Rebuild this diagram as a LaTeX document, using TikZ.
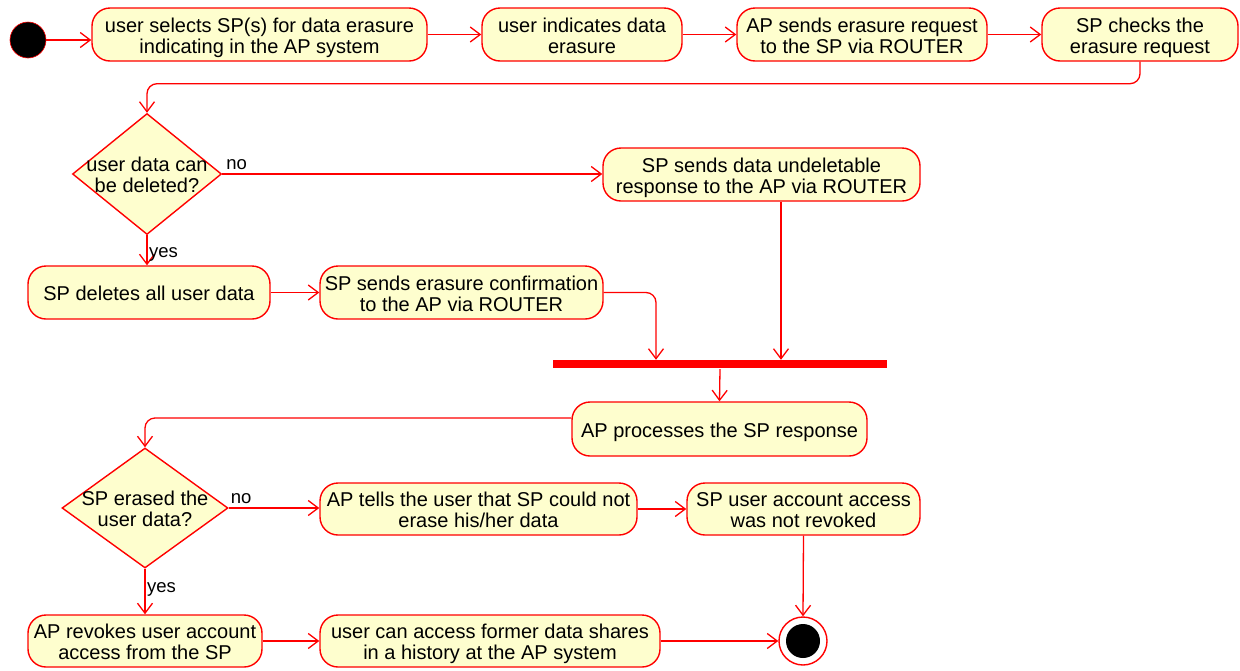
\documentclass[tikz,border=0pt]{standalone}
\usepackage{fontspec}
\setmainfont{Liberation Sans}
\usetikzlibrary{arrows.meta,shapes.geometric}
\definecolor{actfill}{HTML}{FEFECE}
\definecolor{actline}{HTML}{FF0000}
% fixed line box (height 21pt, depth 5pt) so every line sits at the same place
\newcommand{\ls}{\rule[-5pt]{0pt}{26pt}}
\newcommand{\actfont}{\fontsize{20}{21}\selectfont\lineskiplimit=-100pt\relax}
\tikzset{
  act/.style={draw=actline, line width=1.4pt, fill=actfill, rounded corners=18pt,
    align=center, inner sep=0pt, text=black, font=\actfont},
  choice/.style={draw=actline, line width=1.4pt, fill=actfill, shape=diamond,
    inner sep=0pt},
  choicetext/.style={align=center, inner sep=0pt, font=\actfont},
  guard/.style={inner sep=0pt, font=\fontsize{18.5}{20}\selectfont},
  flow/.style={draw=actline, line width=1.3pt, rounded corners=10pt,
    -{Straight Barb[length=10pt,width=15pt,line width=1.3pt]}},
}
\begin{document}
\begin{tikzpicture}[x=1pt,y=-1pt]
\useasboundingbox (0,0) rectangle (1240,670);
\fill[white] (0,0) rectangle (1240,670);

% start and end
\node[circle, fill=black, draw=actline, line width=0.6pt, minimum size=36pt, inner sep=0pt] (start) at (28,40) {};
\node[circle, draw=actline, line width=1.4pt, fill=white, minimum size=48pt, inner sep=0pt] (end) at (803,641) {};
\fill[black] (end.center) circle (17pt);

% first row
\node[act, minimum width=335pt, minimum height=53pt] (b1) at (259.5,34.5) {\ls user selects SP(s) for data erasure\\\ls indicating in the AP system};
\node[act, minimum width=200pt, minimum height=53pt] (b2) at (582,34.5) {\ls user indicates data\\\ls erasure};
\node[act, minimum width=250pt, minimum height=53pt] (b3) at (862,34.5) {\ls AP sends erasure request\\\ls to the SP via ROUTER};
\node[act, minimum width=196pt, minimum height=53pt] (b4) at (1140,34.5) {\ls SP checks the\\\ls erasure request};

% first decision
\node[choice, minimum width=149pt, minimum height=121pt] (d1) at (147,174) {};
\node[choicetext] at (d1.center) {\ls user data can\\\ls be deleted?};
\node[act, minimum width=317pt, minimum height=53pt] (b5) at (761.5,174.5) {\ls SP sends data undeletable\\\ls response to the AP via ROUTER};
\node[act, minimum width=242pt, minimum height=53pt] (b6) at (149,292.5) {\ls SP deletes all user data};
\node[act, minimum width=283pt, minimum height=53pt] (b7) at (461.5,292.5) {\ls SP sends erasure confirmation\\\ls to the AP via ROUTER};

% join bar
\node[fill=actline, minimum width=334pt, minimum height=8pt, inner sep=0pt] (bar) at (720,364) {};
\node[act, minimum width=295pt, minimum height=54pt] (b8) at (719.5,429) {\ls AP processes the SP response};

% second decision
\node[choice, minimum width=166pt, minimum height=120pt] (d2) at (145,508) {};
\node[choicetext] at (d2.center) {\ls SP erased the\\\ls user data?};
\node[act, minimum width=317pt, minimum height=52pt] (b9) at (478.5,509) {\ls AP tells the user that SP could not\\\ls erase his/her data};
\node[act, minimum width=233pt, minimum height=52pt] (b10) at (803.5,509) {\ls SP user account access\\\ls was not revoked};
\node[act, minimum width=234pt, minimum height=52pt] (b11) at (145,641) {\ls AP revokes user account\\\ls access from the SP};
\node[act, minimum width=340pt, minimum height=52pt] (b12) at (490,641) {\ls user can access former data shares\\\ls in a history at the AP system};

% flows
\draw[flow] (start.east) -- (start.east -| b1.west);
\draw[flow] (b1) -- (b2);
\draw[flow] (b2) -- (b3);
\draw[flow] (b3) -- (b4);
\draw[flow] (b4.south) -- ++(0,22) -| (d1.north);
\draw[flow] (d1.east) -- (d1.east -| b5.west);
\node[guard, anchor=south west] at ([xshift=4pt,yshift=4pt]d1.east) {no};
\draw[flow] (d1.south) -- (d1.south |- b6.north);
\node[guard, anchor=north west] at ([xshift=2pt,yshift=-12pt]d1.south) {yes};
\draw[flow] (b6) -- (b7);
\draw[flow] (b7.east) -| ([xshift=-64pt]bar.north);
\draw[flow] ([xshift=19.5pt]b5.south) -- ([xshift=61pt]bar.north);
\draw[flow] ([yshift=-1pt]bar.south) -- (b8.north);
\draw[flow] ([yshift=11pt]b8.west) -| (d2.north);
\draw[flow] (d2.east) -- (d2.east -| b9.west);
\node[guard, anchor=south west] at ([xshift=2pt,yshift=4pt]d2.east) {no};
\draw[flow] (b9) -- (b10);
\draw[flow] (b10.south) -- (end.north);
\draw[flow] (d2.south) -- (d2.south |- b11.north);
\node[guard, anchor=north west] at ([xshift=2pt,yshift=-14pt]d2.south) {yes};
\draw[flow] (b11) -- (b12);
\draw[flow] (b12) -- (end);
\end{tikzpicture}
\end{document}
